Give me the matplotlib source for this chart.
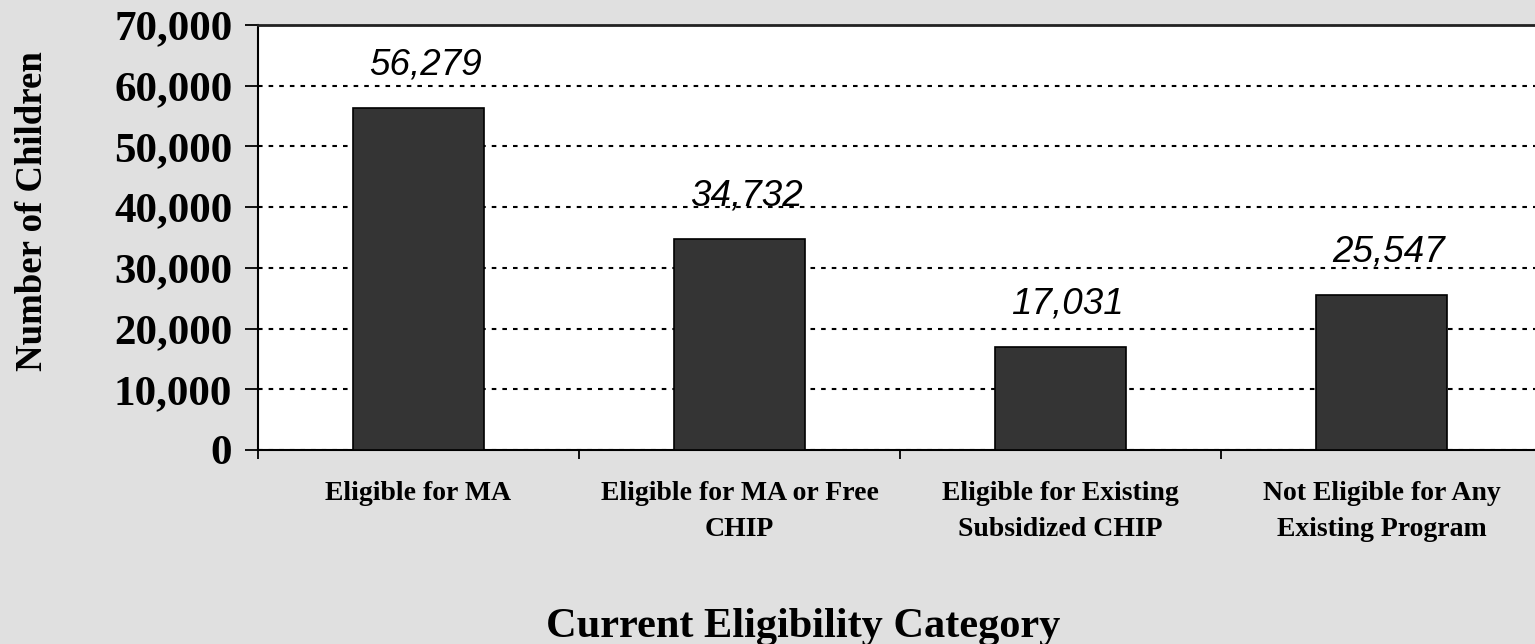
import matplotlib
matplotlib.use("Agg")
import matplotlib.pyplot as plt
from matplotlib.ticker import FuncFormatter, FixedLocator

# data
categories = ["Eligible for MA",
              "Eligible for MA or Free\nCHIP",
              "Eligible for Existing\nSubsidized CHIP",
              "Not Eligible for Any\nExisting Program"]
children = [56279, 34732, 17031, 25547]
y_ticks = [0, 10000, 20000, 30000, 40000, 50000, 60000, 70000]

BG = "#e0e0e0"
BAR = "#343434"
serif = "Liberation Serif"
sans = "Liberation Sans"

fig = plt.figure(figsize=(15.35, 6.44), dpi=100, facecolor=BG)
# plot area in pixels: left 258, top 25, bottom 450, right runs just past the edge
W, H = 1535.0, 644.0
ax = fig.add_axes([258 / W, 1 - 450 / H, 1284 / W, 425 / H])
ax.set_facecolor("white")

x = list(range(len(categories)))
ax.bar(x, children, width=0.41, color=BAR, edgecolor="black", linewidth=1.2, zorder=3)

for xi, v in zip(x, children):
    ax.annotate(f"{v:,}", (xi, v), xytext=(5, 24), textcoords="offset points",
                ha="center", va="baseline", fontsize=26.5, style="italic",
                family=sans, color="black", zorder=4)

ax.set_xlim(-0.5, len(categories) - 0.5)
ax.set_ylim(0, 70000)

# y axis
ax.yaxis.set_major_locator(FixedLocator(y_ticks))
ax.yaxis.set_major_formatter(FuncFormatter(lambda v, p: f"{int(v):,}"))
ax.tick_params(axis="y", which="major", direction="out", length=9.5, width=1.3,
               pad=9, labelsize=31)
for lab in ax.get_yticklabels():
    lab.set_fontfamily(serif)
    lab.set_fontweight("bold")

ax.grid(axis="y", color="black", linestyle=(0, (2.2, 2.9)), linewidth=1.5, zorder=1)
ax.set_axisbelow(True)

# x axis: ticks at category boundaries, labels at centres
ax.xaxis.set_major_locator(FixedLocator([i - 0.5 for i in range(len(categories) + 1)]))
ax.xaxis.set_major_formatter(FuncFormatter(lambda v, p: ""))
ax.xaxis.set_minor_locator(FixedLocator(x))
ax.set_xticklabels(categories, minor=True)
ax.tick_params(axis="x", which="major", direction="out", length=6.5, width=1.3)
ax.tick_params(axis="x", which="minor", length=0, pad=22, labelsize=20)
for lab in ax.get_xticklabels(minor=True):
    lab.set_fontfamily(serif)
    lab.set_fontweight("bold")
    lab.set_linespacing(1.6)

for side in ["left", "bottom"]:
    ax.spines[side].set_linewidth(1.5)
    ax.spines[side].set_color("black")
ax.spines["top"].set_linewidth(2.0)
ax.spines["top"].set_color("#222222")
ax.spines["right"].set_visible(False)

ax.set_ylabel("Number of Children", fontsize=26.5, fontweight="bold", family=serif)
ax.yaxis.label.set_va("baseline")
ax.yaxis.set_label_coords((42 - 258) / 1284, (450 - 211.5) / 425)

ax.set_xlabel("Current Eligibility Category", fontsize=30.5, fontweight="bold", family=serif)
ax.xaxis.label.set_va("baseline")
ax.xaxis.set_label_coords((803.5 - 258) / 1284, (450 - 637) / 425)

fig.savefig("out.png", dpi=100, facecolor=BG)
